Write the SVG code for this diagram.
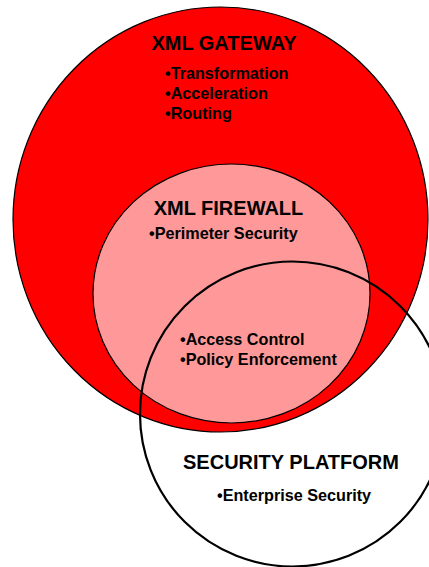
<svg xmlns="http://www.w3.org/2000/svg" width="429" height="567" viewBox="0 0 429 567">
<style>
.t{font-family:"Liberation Sans",Arial,sans-serif;font-weight:bold;font-size:20px;fill:#000}
.b{font-family:"Liberation Sans",Arial,sans-serif;font-weight:bold;font-size:16.2px;fill:#000}
</style>
<rect width="429" height="567" fill="#fff"/>
<g id="xml-gateway">
<ellipse cx="220.5" cy="219.5" rx="207.5" ry="212.5" fill="#ff0000" stroke="#000" stroke-width="1.2"/>
<text class="t" x="224" y="50" text-anchor="middle">XML GATEWAY</text>
<text class="b" x="165" y="79">•Transformation</text>
<text class="b" x="165" y="99">•Acceleration</text>
<text class="b" x="165" y="119">•Routing</text>
</g>
<g id="xml-firewall">
<ellipse cx="231.5" cy="293.5" rx="138.5" ry="129.5" fill="#ff9999" stroke="#000" stroke-width="1.2"/>
<text class="t" x="228.5" y="215" text-anchor="middle">XML FIREWALL</text>
<text class="b" x="149" y="238.5">•Perimeter Security</text>
<text class="b" x="180" y="345">•Access Control</text>
<text class="b" x="180" y="365">•Policy Enforcement</text>
</g>
<g id="security-platform">
<circle cx="292.5" cy="414" r="152.5" fill="none" stroke="#000" stroke-width="2.2"/>
<text class="t" x="291" y="469" text-anchor="middle">SECURITY PLATFORM</text>
<text class="b" x="217" y="500.5">•Enterprise Security</text>
</g>
<g id="connectors"/>
</svg>
